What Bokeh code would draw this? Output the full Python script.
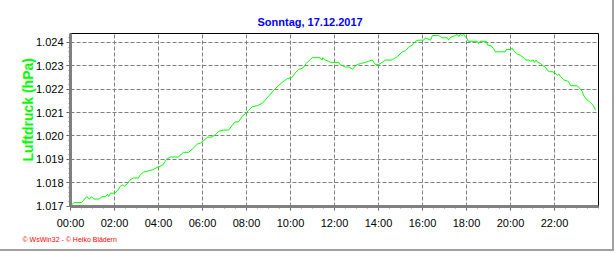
from bokeh.plotting import figure
from bokeh.models import FixedTicker, Title
from bokeh.embed import file_html
from bokeh.resources import INLINE

# Luftdruck (hPa) am Sonntag, 17.12.2017
times = ["00:00","00:10","00:30","00:44","00:52","00:57","01:03","01:19","01:25","01:35",
         "01:41","01:44","01:49","02:00","02:08","02:16","02:22","02:27","02:35","02:41",
         "02:51","03:05","03:11","03:19","03:44","03:56","04:11","04:22","04:33","04:54",
         "05:08","05:22","05:33","05:46","05:55","06:03","06:14","06:24","06:35","06:44",
         "06:57","07:11","07:21","07:28","07:38","07:49","07:57","08:06","08:16","08:30",
         "08:43","08:52","09:03","09:14","09:27","09:38","09:51","10:04","10:13","10:22",
         "10:33","10:43","10:52","11:00","11:21","11:26","11:28","11:35","11:43","11:49",
         "12:11","12:15","12:30","12:40","12:49","12:57","13:02","13:11","13:24","13:33",
         "13:43","13:52","14:00","14:10","14:19","14:38","14:41","14:52","15:05","15:14",
         "15:22","15:33","15:41","15:49","16:03","16:08","16:15","16:22","16:27","16:44",
         "16:54","17:08","17:11","17:15","17:20","17:30","17:35","17:39","17:43","17:48",
         "17:52","17:57","18:02","18:05","18:29","18:33","18:37","18:54","18:57","19:08",
         "19:13","19:19","19:46","19:49","20:00","20:05","20:08","20:19","20:27","20:36",
         "20:41","20:49","20:55","21:02","21:05","21:10","21:14","21:22","21:29","21:35",
         "21:41","21:46","21:54","22:01","22:08","22:12","22:16","22:25","22:35","22:39",
         "22:44","23:02","23:08","23:16","23:19","23:25","23:33","23:40","23:46","23:52"]
pressure = [1017.0,1017.15,1017.15,1017.4,1017.3,1017.4,1017.3,1017.3,1017.4,1017.4,
            1017.5,1017.4,1017.55,1017.55,1017.65,1017.85,1017.9,1017.85,1017.95,1018.1,
            1018.2,1018.2,1018.35,1018.45,1018.55,1018.65,1018.75,1019.0,1019.1,1019.1,
            1019.3,1019.3,1019.45,1019.65,1019.7,1019.8,1019.95,1019.95,1020.05,1020.2,
            1020.25,1020.25,1020.45,1020.6,1020.6,1020.85,1020.95,1021.1,1021.25,1021.3,
            1021.4,1021.55,1021.75,1021.95,1022.15,1022.3,1022.45,1022.5,1022.7,1022.85,
            1022.9,1023.1,1023.25,1023.35,1023.35,1023.25,1023.35,1023.25,1023.2,1023.15,
            1023.15,1023.05,1022.95,1022.95,1022.85,1023.0,1023.05,1023.1,1023.15,1023.2,
            1023.25,1023.05,1023.05,1023.15,1023.25,1023.25,1023.3,1023.4,1023.6,1023.65,
            1023.8,1023.9,1024.05,1024.1,1024.1,1024.2,1024.15,1024.1,1024.3,1024.3,
            1024.2,1024.2,1024.1,1024.2,1024.25,1024.3,1024.35,1024.25,1024.35,1024.3,
            1024.35,1024.25,1024.15,1024.05,1024.05,1023.95,1024.05,1024.05,1023.9,1023.85,
            1023.75,1023.6,1023.6,1023.7,1023.7,1023.75,1023.65,1023.5,1023.45,1023.35,
            1023.25,1023.25,1023.2,1023.25,1023.15,1023.25,1023.15,1023.1,1023.0,1022.95,
            1022.8,1022.75,1022.75,1022.7,1022.6,1022.65,1022.55,1022.4,1022.35,1022.3,
            1022.15,1022.15,1022.05,1021.9,1021.75,1021.6,1021.5,1021.4,1021.3,1021.1]

x_ticks = [0, 2, 4, 6, 8, 10, 12, 14, 16, 18, 20, 22]
x_tick_labels = ["00:00","02:00","04:00","06:00","08:00","10:00","12:00","14:00",
                 "16:00","18:00","20:00","22:00"]
y_ticks = [1017, 1018, 1019, 1020, 1021, 1022, 1023, 1024]
y_tick_labels = ["1.017","1.018","1.019","1.020","1.021","1.022","1.023","1.024"]

title_text = "Sonntag, 17.12.2017"
y_label_text = "Luftdruck (hPa)"
footer_text = "\u00a9 WsWin32 - \u00a9 Heiko Bl\u00e4dern"

hours = [int(t[:2]) + int(t[3:]) / 60 for t in times]

FONT = "Liberation Sans"

p = figure(width=614, height=251, output_backend="svg", toolbar_location=None,
           x_range=(0, 24), y_range=(1016.98, 1024.385),
           min_border_left=70, min_border_right=16, min_border_top=33, min_border_bottom=45)
p.styles = {"border-right": "2px solid #a0a0a0", "border-bottom": "2px solid #a0a0a0"}
p.background_fill_color = "white"
p.border_fill_color = "white"
p.outline_line_color = "black"
p.outline_line_width = 1

p.line(hours, pressure, line_color="#00ff00", line_width=1)

xt = FixedTicker(ticks=x_ticks, minor_ticks=[i * 0.5 for i in range(49)])
yt = FixedTicker(ticks=y_ticks, minor_ticks=[1017 + i * 0.2 for i in range(37)])
p.xaxis.ticker = xt
p.yaxis.ticker = yt
p.xaxis.major_label_overrides = {t: l for t, l in zip(x_ticks, x_tick_labels)}
p.yaxis.major_label_overrides = {t: l for t, l in zip(y_ticks, y_tick_labels)}

for ax in (p.xaxis[0], p.yaxis[0]):
    ax.axis_line_color = "#808080"
    ax.axis_line_width = 3
    ax.major_tick_line_color = "#606060"
    ax.minor_tick_line_color = "#808080"
    ax.major_tick_in = 0
    ax.minor_tick_in = 0
    ax.major_tick_out = 4
    ax.minor_tick_out = 2
    ax.major_label_text_font = FONT
    ax.major_label_text_font_size = "11px"
    ax.major_label_text_color = "black"
p.xaxis.major_label_standoff = 6
p.yaxis.major_label_standoff = 3

for g, t in ((p.xgrid[0], xt), (p.ygrid[0], yt)):
    g.ticker = t
    g.grid_line_color = "#808080"
    g.grid_line_dash = "4 2"
    g.grid_line_width = 1

p.title.text = title_text
p.title.align = "left"
p.title.offset = 187
p.title.standoff = 12
p.title.text_font = FONT
p.title.text_font_style = "bold"
p.title.text_font_size = "11px"
p.title.text_color = "#0000ff"

p.add_layout(Title(text=y_label_text, align="left", offset=45, standoff=-6,
                   text_font=FONT, text_font_style="bold", text_font_size="14px",
                   text_color="#00ff00"), "left")
p.add_layout(Title(text=footer_text, align="left", offset=-48, standoff=4,
                   text_font=FONT, text_font_style="normal", text_font_size="7px",
                   text_color="#ff0000"), "below")

open("out.html", "w").write(file_html(p, INLINE))
